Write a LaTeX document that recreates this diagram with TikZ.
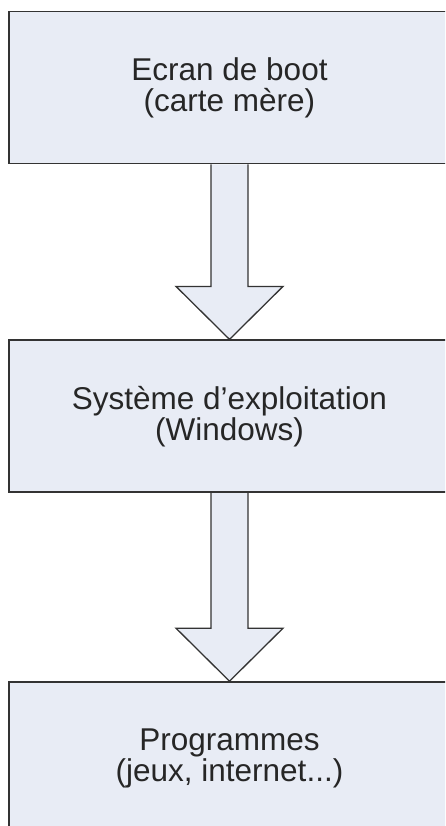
\documentclass[tikz,border=0pt]{standalone}
\usepackage{fontspec}
\setmainfont{Liberation Sans}
\usepackage{tikz}
\usetikzlibrary{positioning, calc}
\definecolor{BoxFill}{HTML}{E8ECF5}
\definecolor{LineGray}{HTML}{333333}
\definecolor{TextGray}{HTML}{262626}
\tikzset{
  % Box styles
  stagebox/.style={rectangle, draw=LineGray, line width=1.8pt, fill=BoxFill, minimum width=441pt, minimum height=152pt, inner sep=0pt, align=center, text=TextGray, font=\fontsize{31.5}{31}\selectfont},
  % Arrow styles
  fatarrow/.style={draw=LineGray, line width=1.3pt, fill=BoxFill, line join=miter}
}
% Hollow down arrow from the bottom of #1 to the top of #2
\newcommand{\bigdown}[2]{%
  \draw[fatarrow] ($(#1.south)+(-18.5,0)$) -- ($(#2.north)+(-18.5,53)$) -- ($(#2.north)+(-53.5,53)$) -- (#2.north) -- ($(#2.north)+(53.5,53)$) -- ($(#2.north)+(18.5,53)$) -- ($(#1.south)+(18.5,0)$);
}

\begin{document}
\begin{tikzpicture}[x=1pt, y=1pt]
  \useasboundingbox (0,0) rectangle (445,-826);
  \clip (0,0) rectangle (445,-826);

  % Boot screen
  \node[stagebox] (boot) at (229.5,-87.5) {Ecran de boot\\(carte mère)};

  % Operating system
  \node[stagebox, below=175pt of boot] (os) {Système d’exploitation\\(Windows)};

  % Programs
  \node[stagebox, below=188pt of os] (prog) {Programmes\\(jeux, internet...)};

  % Arrows
  \bigdown{boot}{os}
  \bigdown{os}{prog}
\end{tikzpicture}
\end{document}
